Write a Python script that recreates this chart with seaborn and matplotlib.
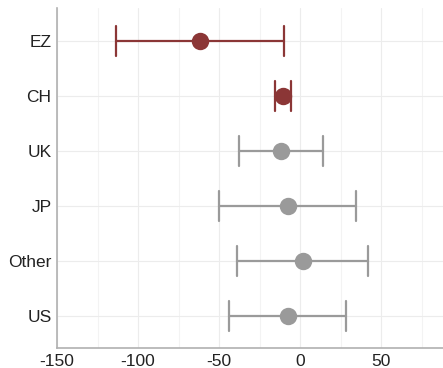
import numpy as np
import pandas as pd
import matplotlib
matplotlib.use("Agg")
import matplotlib.pyplot as plt
import seaborn as sns
from matplotlib.ticker import MultipleLocator

categories = ["EZ", "CH", "UK", "JP", "Other", "US"]
estimate = [-62, -10.5, -12, -7.5, 1.5, -7.5]
lower = [-113.5, -15.5, -38, -50, -39, -44]
upper = [-10, -5.5, 14, 34.5, 42, 28]
highlight = ["EZ", "CH"]

red = "#8b3636"
gray = "#9a9a9a"

rows = []
for c, lo, m, hi in zip(categories, lower, estimate, upper):
    for v in (lo, m, hi):
        rows.append({"category": c, "value": v})
df = pd.DataFrame(rows)
palette = {c: (red if c in highlight else gray) for c in categories}

sns.set_theme(style="whitegrid")
plt.rcParams["font.family"] = ["Liberation Sans", "DejaVu Sans"]
plt.rcParams["axes.unicode_minus"] = False

fig = plt.figure(figsize=(4.43, 3.68), dpi=100)
ax = fig.add_axes([57 / 443, 20 / 368, 1 - 57 / 443, 340 / 368])

sns.pointplot(data=df, x="value", y="category", hue="category", order=categories,
              hue_order=categories, palette=palette, estimator=np.median,
              errorbar=("pi", 100), capsize=0.56, linestyle="none", markers="o",
              markersize=10.5, err_kws={"linewidth": 1.6}, legend=False, ax=ax,
              dodge=False)

ax.set_xlim(-150, 88)
ax.set_ylim(5.58, -0.6)
ax.xaxis.set_major_locator(MultipleLocator(50))
ax.xaxis.set_minor_locator(MultipleLocator(25))
ax.grid(True, which="major", color="#ececec", linewidth=0.8)
ax.grid(True, which="minor", axis="x", color="#f3f3f3", linewidth=0.8)
ax.set_facecolor("white")
for s in ["top", "right"]:
    ax.spines[s].set_visible(False)
for s in ["left", "bottom"]:
    ax.spines[s].set_visible(True)
    ax.spines[s].set_color("#b0b0b0")
    ax.spines[s].set_linewidth(1.2)
ax.set_xlabel("")
ax.set_ylabel("")
ax.tick_params(axis="both", length=0, labelsize=12.5, colors="#222222", pad=4)

fig.savefig("out.png", dpi=100)
